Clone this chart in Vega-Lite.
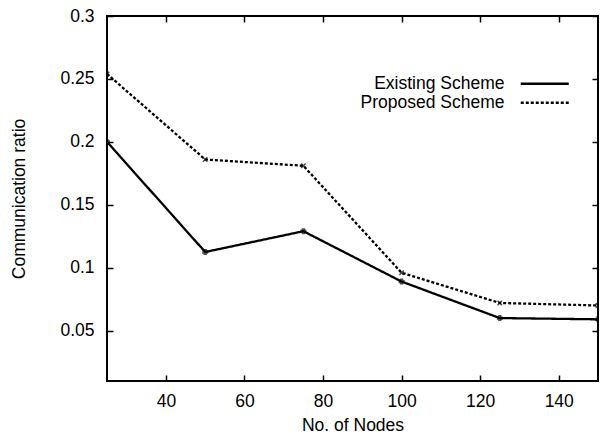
{
  "$schema": "https://vega.github.io/schema/vega-lite/v6.json",
  "width": 491,
  "height": 365,
  "autosize": "none",
  "padding": {"left": 107, "top": 16, "right": 2, "bottom": 55},
  "background": "white",
  "config": {
    "font": "Liberation Sans",
    "view": {"stroke": "black", "strokeWidth": 2}
  },
  "data": {"values": [
    {"nodes": 25, "ratio": 0.2, "scheme": "Existing Scheme"},
    {"nodes": 50, "ratio": 0.1125, "scheme": "Existing Scheme"},
    {"nodes": 75, "ratio": 0.129, "scheme": "Existing Scheme"},
    {"nodes": 100, "ratio": 0.089, "scheme": "Existing Scheme"},
    {"nodes": 125, "ratio": 0.060, "scheme": "Existing Scheme"},
    {"nodes": 150, "ratio": 0.059, "scheme": "Existing Scheme"},
    {"nodes": 25, "ratio": 0.254, "scheme": "Proposed Scheme"},
    {"nodes": 50, "ratio": 0.186, "scheme": "Proposed Scheme"},
    {"nodes": 75, "ratio": 0.181, "scheme": "Proposed Scheme"},
    {"nodes": 100, "ratio": 0.096, "scheme": "Proposed Scheme"},
    {"nodes": 125, "ratio": 0.072, "scheme": "Proposed Scheme"},
    {"nodes": 150, "ratio": 0.070, "scheme": "Proposed Scheme"}
  ]},
  "resolve": {"axis": {"x": "independent", "y": "independent"}},
  "layer": [
    {
      "mark": {"type": "line", "color": "black", "strokeWidth": 2.3, "clip": true},
      "encoding": {
        "x": {"field": "nodes", "type": "quantitative", "scale": {"domain": [25, 150], "nice": false, "zero": false},
              "axis": {"title": "No. of Nodes", "values": [40, 60, 80, 100, 120, 140], "format": "d", "grid": false, "domain": false, "tickColor": "black", "tickWidth": 1.5, "tickSize": -6, "labelPadding": 17, "titlePadding": 7, "labelFontSize": 17.5, "titleFontSize": 17.5, "titleFontWeight": "normal", "labelColor": "black", "titleColor": "black", "labelFont": "Liberation Sans", "titleFont": "Liberation Sans"}},
        "y": {"field": "ratio", "type": "quantitative", "scale": {"domain": [0.01, 0.3], "nice": false, "zero": false},
              "axis": {"title": "Communication ratio", "values": [0.05, 0.1, 0.15, 0.2, 0.25, 0.3], "format": "~g", "grid": false, "domain": false, "tickColor": "black", "tickWidth": 1.5, "tickSize": -6, "labelPadding": 19, "titlePadding": 31, "labelFontSize": 17.5, "titleFontSize": 17.5, "titleFontWeight": "normal", "labelColor": "black", "titleColor": "black", "labelFont": "Liberation Sans", "titleFont": "Liberation Sans"}},
        "strokeDash": {"field": "scheme", "type": "nominal",
          "scale": {"domain": ["Existing Scheme", "Proposed Scheme"], "range": [[1, 0], [3, 2]]},
          "legend": {"title": null, "orient": "none", "legendX": 429, "legendY": 59, "symbolType": "M-4,0L4,0", "symbolSize": 144, "symbolStrokeWidth": 2.3, "symbolStrokeColor": "black", "labelFontSize": 17.5, "labelColor": "black", "labelAlign": "right", "labelOffset": -49, "rowPadding": 0, "labelFont": "Liberation Sans"}}
      }
    },
    {
      "mark": {"type": "point", "color": "black", "size": 20, "strokeWidth": 1.5, "filled": false, "clip": true},
      "encoding": {
        "x": {"field": "nodes", "type": "quantitative", "axis": {"orient": "top", "values": [40, 60, 80, 100, 120, 140], "grid": false, "domain": false, "tickColor": "black", "tickWidth": 1.5, "tickSize": -6, "labels": false, "title": null}},
        "y": {"field": "ratio", "type": "quantitative", "axis": {"orient": "right", "values": [0.05, 0.1, 0.15, 0.2, 0.25, 0.3], "grid": false, "domain": false, "tickColor": "black", "tickWidth": 1.5, "tickSize": -6, "labels": false, "title": null}},
        "shape": {"condition": {"test": "datum.scheme === 'Proposed Scheme'", "value": "M-1,-1L1,1M-1,1L1,-1"}, "value": "cross"}
      }
    }
  ]
}
